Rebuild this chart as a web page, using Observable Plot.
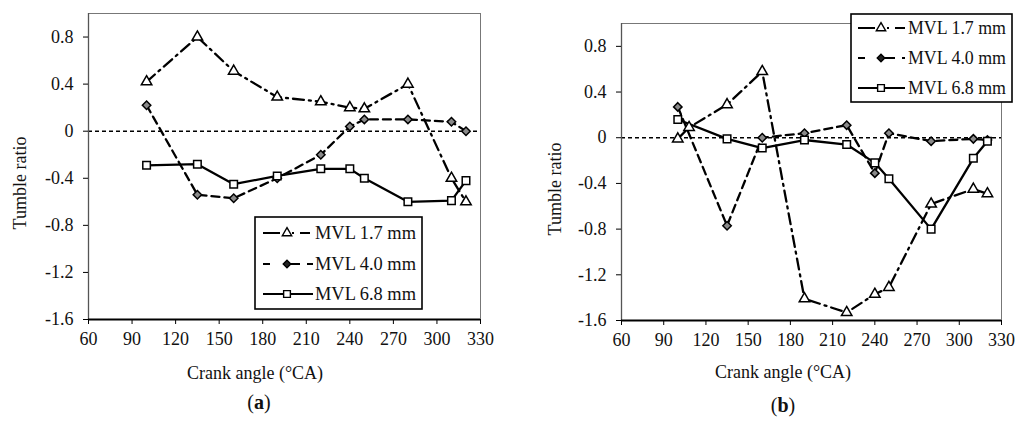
<!DOCTYPE html>
<html><head><meta charset="utf-8">
<script src="https://cdn.jsdelivr.net/npm/d3@7"></script>
<script src="https://cdn.jsdelivr.net/npm/@observablehq/plot@0.6"></script>
<style>
body{margin:0;background:#fff;font-family:"Liberation Serif","Times New Roman",serif;}
#wrap{position:relative;width:1024px;height:421px;overflow:hidden;background:#fff;}
.panel{position:absolute;top:0;width:512px;height:421px;}
.lbl{position:absolute;font-size:18px;color:#111;white-space:nowrap;transform:translate(-50%,-50%);}
.ylbl{transform:translate(-50%,-50%) rotate(-90deg);}
.cap{font-size:20px;}
.legend{position:absolute;}
</style></head><body><div id="wrap"></div>
<script>
// ---- data ----
const seriesNames = ["MVL 1.7 mm", "MVL 4.0 mm", "MVL 6.8 mm"];
const xTicks = [60, 90, 120, 150, 180, 210, 240, 270, 300, 330];
const yTicks = [-1.6, -1.2, -0.8, -0.4, 0, 0.4, 0.8];

const anglesA = [100, 135, 160, 190, 220, 240, 250, 280, 310, 320];
const a17 = [0.42, 0.80, 0.51, 0.29, 0.25, 0.20, 0.19, 0.40, -0.40, -0.60];
const a40 = [0.22, -0.54, -0.57, -0.40, -0.20, 0.04, 0.10, 0.10, 0.08, 0.00];
const a68 = [-0.29, -0.28, -0.45, -0.38, -0.32, -0.32, -0.40, -0.60, -0.59, -0.42];

const anglesB17 = [100, 108, 135, 160, 190, 220, 240, 250, 280, 310, 320];
const b17 = [-0.01, 0.09, 0.29, 0.58, -1.41, -1.53, -1.37, -1.31, -0.58, -0.45, -0.49];
const anglesB = [100, 135, 160, 190, 220, 240, 250, 280, 310, 320];
const b40 = [0.27, -0.77, 0.00, 0.04, 0.11, -0.31, 0.04, -0.03, -0.01, -0.02];
const b68 = [0.16, -0.01, -0.09, -0.02, -0.06, -0.22, -0.36, -0.80, -0.18, -0.03];

// ---- styles ----
const styles = [
  {dash: "11,5,2,5", symbol: "triangle2", fill: "white", r: 5},
  {dash: "8,5", symbol: "diamond2", fill: "#8a8a8a", r: 3.8},
  {dash: null, symbol: "square2", fill: "white", r: 4.8}
];

const toRows = (xs, ys) => xs.map((x, i) => ({x, y: ys[i]}));

function chart(series, m) {
  const marks = [
    Plot.frame({stroke: "#777", strokeWidth: 1}),
    Plot.ruleY([0], {stroke: "#000", strokeWidth: 1.4, strokeDasharray: "4,3"}),
    Plot.ruleX([60], {stroke: "#555", strokeWidth: 1.3}),
    Plot.ruleY([-1.6], {stroke: "#000", strokeWidth: 2}),
    Plot.axisX({ticks: xTicks, tickSize: 5, tickPadding: 8, label: null, fontSize: 18, fill: "#111"}),
    Plot.axisY({ticks: yTicks, tickSize: 5, tickPadding: 10, label: null, fontSize: 18, fill: "#111",
      tickFormat: d => d === 0 ? "0" : d.toFixed(1)})
  ];
  series.forEach((rows, i) => {
    const s = styles[i];
    marks.push(Plot.line(rows, {x: "x", y: "y", stroke: "#000", strokeWidth: 2.3,
      strokeDasharray: s.dash || undefined}));
  });
  series.forEach((rows, i) => {
    const s = styles[i];
    marks.push(Plot.dot(rows, {x: "x", y: "y", symbol: s.symbol, r: s.r,
      stroke: "#000", strokeWidth: 1.5, fill: s.fill}));
  });
  return Plot.plot({
    width: 512, height: 421,
    marginLeft: m.l, marginRight: m.r, marginTop: m.t, marginBottom: m.b,
    x: {domain: [60, 330]},
    y: {domain: [-1.6, 1.0]},
    style: {fontFamily: "'Liberation Serif','Times New Roman',serif", fontSize: "18px", color: "#000", background: "transparent", overflow: "visible"},
    marks
  });
}

function legend(box) {
  const svg = d3.create("svg").attr("width", box.w).attr("height", box.h)
    .style("position", "absolute").style("left", box.x + "px").style("top", box.y + "px");
  svg.append("rect").attr("x", 1).attr("y", 1).attr("width", box.w - 2).attr("height", box.h - 2)
    .attr("fill", "white").attr("stroke", "#000").attr("stroke-width", 1.6);
  const types = {triangle2: d3.symbolTriangle2, diamond2: d3.symbolDiamond2, square2: d3.symbolSquare2};
  const dashes = ["17,12,2,6,10", "7,10,0,10,10", null];
  seriesNames.forEach((name, i) => {
    const y = box.rows[i];
    const s = styles[i];
    const line = svg.append("line").attr("x1", box.lx0).attr("x2", box.lx1).attr("y1", y).attr("y2", y)
      .attr("stroke", "#000").attr("stroke-width", 2.2);
    if (dashes[i]) line.attr("stroke-dasharray", dashes[i]);
    svg.append("path").attr("transform", `translate(${box.mx},${y})`)
      .attr("d", d3.symbol().type(types[s.symbol]).size(Math.PI * s.r * s.r * 0.8)())
      .attr("fill", i === 1 ? "#222" : "white").attr("stroke", "#000").attr("stroke-width", 1.4);
    svg.append("text").attr("x", box.tx).attr("y", y).attr("dy", "0.35em")
      .attr("font-family", "'Liberation Serif','Times New Roman',serif").attr("font-size", 18.5)
      .attr("textLength", box.tl).attr("lengthAdjust", "spacingAndGlyphs")
      .attr("fill", "#111").text(name);
  });
  return svg.node();
}

const wrap = document.getElementById("wrap");

const pA = document.createElement("div"); pA.className = "panel"; pA.style.left = "0px";
pA.appendChild(chart([toRows(anglesA, a17), toRows(anglesA, a40), toRows(anglesA, a68)],
  {l: 88, r: 32, t: 13, b: 102}));
pA.appendChild(legend({x: 254, y: 216, w: 169, h: 94, rows: [17, 48, 78], lx0: 9, lx1: 59, mx: 33, tx: 61, tl: 101}));
wrap.appendChild(pA);

const pB = document.createElement("div"); pB.className = "panel"; pB.style.left = "512px";
pB.appendChild(chart([toRows(anglesB17, b17), toRows(anglesB, b40), toRows(anglesB, b68)],
  {l: 109, r: 23, t: 23, b: 101}));
pB.appendChild(legend({x: 338, y: 13, w: 163, h: 90, rows: [15, 45, 75], lx0: 8, lx1: 55, mx: 31, tx: 58, tl: 98}));
wrap.appendChild(pB);

function addLabel(text, x, y, cls, html) {
  const d = document.createElement("div");
  d.className = "lbl " + (cls || "");
  d.style.left = x + "px"; d.style.top = y + "px";
  if (html) d.innerHTML = text; else d.textContent = text;
  wrap.appendChild(d);
}
addLabel("Tumble ratio", 20, 183, "ylbl");
addLabel("Crank angle (°CA)", 255, 373);
addLabel("(<b>a</b>)", 259, 402, "cap", true);
addLabel("Tumble ratio", 555, 189, "ylbl");
addLabel("Crank angle (°CA)", 783, 372);
addLabel("(<b>b</b>)", 783, 405, "cap", true);
</script></body></html>
